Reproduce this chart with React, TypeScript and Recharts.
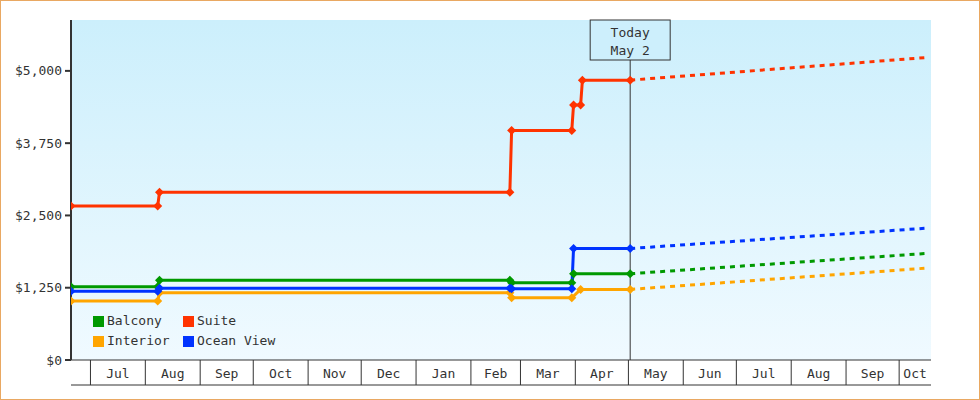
import React from 'react';
import {
  LineChart,
  Line,
  XAxis,
  YAxis,
  CartesianGrid,
  ReferenceLine,
  Legend,
} from 'recharts';

const FONT = '"DejaVu Sans Mono", "Liberation Mono", monospace';
const INK = '#333333';

// axis range and the "today" marker
const RANGE_START = '2024-06-20';
const RANGE_END = '2025-10-19';
const TODAY = '2025-05-02';
const FORECAST_END = '2025-10-16';

// month boxes on the x axis (first day of each month + its label)
const MONTH_STARTS = [
  '2024-07-01', '2024-08-01', '2024-09-01', '2024-10-01', '2024-11-01', '2024-12-01',
  '2025-01-01', '2025-02-01', '2025-03-01', '2025-04-01', '2025-05-01', '2025-06-01',
  '2025-07-01', '2025-08-01', '2025-09-01', '2025-10-01',
];
const MONTH_LABELS = [
  'Jul', 'Aug', 'Sep', 'Oct', 'Nov', 'Dec', 'Jan', 'Feb',
  'Mar', 'Apr', 'May', 'Jun', 'Jul', 'Aug', 'Sep', 'Oct',
];

const PRICE_TICKS = [0, 1250, 2500, 3750, 5000];
const PRICE_MAX = 5880;

// price history per cabin type
const BALCONY_DATES = ['2024-06-20', '2024-08-08', '2024-08-09', '2025-02-23', '2025-02-24', '2025-03-30', '2025-03-31', '2025-05-02'];
const BALCONY_PRICES = [1267, 1267, 1381, 1381, 1336, 1336, 1492, 1492];

const INTERIOR_DATES = ['2024-06-20', '2024-08-08', '2024-08-09', '2025-02-23', '2025-02-24', '2025-03-30', '2025-04-04', '2025-05-02'];
const INTERIOR_PRICES = [1019, 1019, 1164, 1164, 1077, 1077, 1221, 1221];

const SUITE_DATES = ['2024-06-20', '2024-08-08', '2024-08-09', '2025-02-23', '2025-02-24', '2025-03-30', '2025-03-31', '2025-04-04', '2025-04-05', '2025-05-02'];
const SUITE_PRICES = [2665, 2665, 2900, 2900, 3970, 3970, 4410, 4410, 4840, 4840];

const OCEAN_DATES = ['2024-06-20', '2024-08-08', '2024-08-09', '2025-02-23', '2025-02-24', '2025-03-30', '2025-03-31', '2025-05-02'];
const OCEAN_PRICES = [1191, 1191, 1243, 1243, 1233, 1233, 1928, 1928];

// projected price at the end of the forecast
const FORECAST_PRICES = { Balcony: 1842, Interior: 1588, Suite: 5230, 'Ocean View': 2279 };

const toDay = (s: string) => Date.parse(s) / 86400000;
const build = (dates: string[], prices: number[]) =>
  dates.map((d, i) => ({ t: toDay(d), v: prices[i] }));

const SERIES = [
  { name: 'Balcony', color: '#009900', data: build(BALCONY_DATES, BALCONY_PRICES) },
  { name: 'Interior', color: '#ffa500', data: build(INTERIOR_DATES, INTERIOR_PRICES) },
  { name: 'Suite', color: '#ff3300', data: build(SUITE_DATES, SUITE_PRICES) },
  { name: 'Ocean View', color: '#0033ff', data: build(OCEAN_DATES, OCEAN_PRICES) },
];
// legend reads row by row
const LEGEND_ORDER = ['Balcony', 'Suite', 'Interior', 'Ocean View'];

const X_MIN = toDay(RANGE_START);
const X_MAX = toDay(RANGE_END);
const TODAY_T = toDay(TODAY);

const bounds = MONTH_STARTS.map(toDay);
const mids = bounds.map((b, i) => (b + (i + 1 < bounds.length ? bounds[i + 1] : X_MAX)) / 2);
const labelAt = new Map<number, string>();
mids.forEach((m, i) => labelAt.set(m, MONTH_LABELS[i]));
const X_TICKS = bounds.flatMap((b, i) => [b, mids[i]]);

const MonthTick = (props: any) => {
  const { x, y, payload } = props;
  const label = labelAt.get(payload.value);
  if (label !== undefined) {
    return (
      <text x={x} y={y + 13} textAnchor="middle" dominantBaseline="central"
        fill={INK} fontSize={13} fontFamily={FONT}>
        {label}
      </text>
    );
  }
  return <line x1={x} x2={x} y1={y} y2={y + 25} stroke={INK} strokeWidth={1} />;
};

const TodayLabel = (props: any) => {
  const { viewBox } = props;
  if (!viewBox) return null;
  const { x, y } = viewBox;
  return (
    <g>
      <rect x={x - 40} y={y} width={80} height={40} fill="#cdeffc" stroke={INK} strokeWidth={1} />
      <text x={x} y={y + 12.5} textAnchor="middle" dominantBaseline="central"
        fill={INK} fontSize={13} fontFamily={FONT}>Today</text>
      <text x={x} y={y + 30.5} textAnchor="middle" dominantBaseline="central"
        fill={INK} fontSize={13} fontFamily={FONT}>May 2</text>
    </g>
  );
};

const diamond = (color: string) => (p: any) => {
  const { cx, cy, index } = p;
  if (cx == null || cy == null) return <g key={index} />;
  const r = 4.5;
  return (
    <path key={index} fill={color}
      d={`M${cx},${cy - r}L${cx + r},${cy}L${cx},${cy + r}L${cx - r},${cy}Z`} />
  );
};

const CabinLegend = () => (
  <div style={{
    display: 'grid', gridTemplateColumns: '90px auto', gridAutoRows: '20px',
    fontFamily: FONT, fontSize: 13, color: INK,
  }}>
    {LEGEND_ORDER.map((n) => {
      const s = SERIES.find((x) => x.name === n)!;
      return (
        <div key={n} style={{ display: 'flex', alignItems: 'center', lineHeight: '20px' }}>
          <span style={{ width: 11, height: 11, background: s.color, marginRight: 3, display: 'inline-block' }} />
          {n}
        </div>
      );
    })}
  </div>
);

export default function App() {
  return (
    <div style={{
      width: 980, height: 400, boxSizing: 'border-box', border: '1px solid #e9a862',
      background: '#fff', position: 'relative',
    }}>
      <style>{'body{margin:0}'}</style>
      <LineChart width={978} height={398} margin={{ top: 19, right: 48, bottom: 13, left: 0 }}>
        <defs>
          <linearGradient id="plotBg" x1="0" y1="0" x2="0" y2="1">
            <stop offset="0%" stopColor="#ccefFC" />
            <stop offset="100%" stopColor="#f0faff" />
          </linearGradient>
        </defs>
        <CartesianGrid horizontal={false} vertical={false} fill="url(#plotBg)" />
        <XAxis
          dataKey="t"
          type="number"
          domain={[X_MIN, X_MAX]}
          allowDataOverflow
          ticks={X_TICKS}
          interval={0}
          tick={<MonthTick />}
          tickLine={false}
          tickSize={0}
          tickMargin={0}
          height={25}
          axisLine={{ stroke: INK, strokeWidth: 1 }}
        />
        <XAxis
          xAxisId="frame"
          type="number"
          domain={[X_MIN, X_MAX]}
          allowDataOverflow
          tick={false}
          tickLine={false}
          height={1}
          axisLine={{ stroke: INK, strokeWidth: 1 }}
        />
        <YAxis
          type="number"
          domain={[0, PRICE_MAX]}
          allowDataOverflow
          ticks={PRICE_TICKS}
          interval={0}
          width={70}
          tickFormatter={(v: number) => '$' + v.toLocaleString('en-US')}
          tick={{ fill: INK, fontSize: 13, fontFamily: FONT }}
          tickSize={6}
          tickMargin={3}
          tickLine={{ stroke: INK, strokeWidth: 2 }}
          axisLine={{ stroke: INK, strokeWidth: 2 }}
        />
        <ReferenceLine x={TODAY_T} stroke={INK} strokeWidth={1} label={<TodayLabel />} />
        {SERIES.map((s) => (
          <Line
            key={s.name + '-fc'}
            data={[
              { t: TODAY_T, v: s.data[s.data.length - 1].v },
              { t: toDay(FORECAST_END), v: FORECAST_PRICES[s.name as keyof typeof FORECAST_PRICES] },
            ]}
            dataKey="v"
            type="linear"
            stroke={s.color}
            strokeWidth={3}
            strokeDasharray="5 5"
            dot={false}
            activeDot={false}
            legendType="none"
            isAnimationActive={false}
          />
        ))}
        {SERIES.map((s) => (
          <Line
            key={s.name}
            name={s.name}
            data={s.data}
            dataKey="v"
            type="linear"
            stroke={s.color}
            strokeWidth={3}
            dot={diamond(s.color)}
            activeDot={false}
            isAnimationActive={false}
          />
        ))}
        <Legend
          layout="horizontal"
          verticalAlign="middle"
          align="center"
          content={<CabinLegend />}
          wrapperStyle={{ left: 92, top: 310, width: 'auto' }}
        />
      </LineChart>
    </div>
  );
}
